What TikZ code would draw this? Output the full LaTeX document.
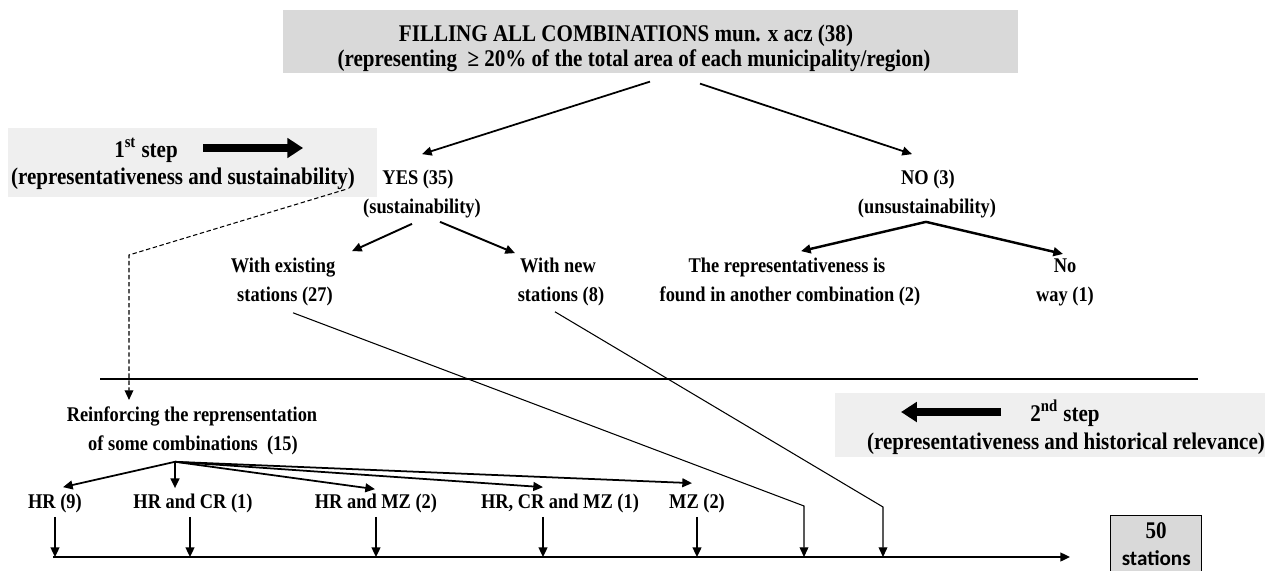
\documentclass[tikz,border=0pt]{standalone}
\usepackage{fontspec}
\setmainfont{Liberation Serif}[FakeStretch=0.88]
\newfontfamily\calibri{Carlito}
\usetikzlibrary{arrows.meta, calc}
\definecolor{boxgrey}{HTML}{D9D9D9}
\definecolor{stepgrey}{HTML}{EFEFEF}
\tikzset{
  lbl/.style={font=\fontsize{11.9}{13}\selectfont\bfseries, anchor=base, inner sep=0pt},
  big/.style={font=\fontsize{13.6}{15}\selectfont\bfseries, anchor=base, inner sep=0pt},
  arrow/.style={-{Triangle[length=5.5pt, width=5pt]}, line width=1pt},
  thin/.style={line width=0.6pt},
  blockarrow/.style={-{Triangle[length=9pt, width=11pt]}, line width=5pt},
}
\begin{document}
\begin{tikzpicture}[x=0.02cm, y=-0.02cm]
  \clip (0,0) rectangle (1265,571);
  % grey backgrounds
  \fill[boxgrey] (283,10) rectangle (1018,73);
  \fill[stepgrey] (8,128) rectangle (377,197);
  \fill[stepgrey] (835,393) rectangle (1265,457);

  % first step
  \node[big] (title1) at (626,42) {FILLING ALL COMBINATIONS mun. x acz (38)};
  \node[big] (title2) at (634,67) {(representing \ ≥ 20\% of the total area of each municipality/region)};
  \node[big] (step1a) at (146,157) {1\textsuperscript{st} step};
  \node[big] (step1b) at (183,185) {(representativeness and sustainability)};
  \draw[blockarrow] (step1a.base east) ++(25,-9) -- ++(100,0);

  \node[lbl] (yes) at (418,185) {YES (35)};
  \node[lbl] (sust) at (422,214) {(sustainability)};
  \node[lbl] (no) at (928,185) {NO (3)};
  \node[lbl] (unsust) at (927,214) {(unsustainability)};
  \draw[arrow] ($(title2.south)+(16,9)$) -- ($(yes.north)+(4,-16)$);
  \draw[arrow] ($(title2.south)+(66,11)$) -- ($(no.north)+(-16,-16)$);

  \node[lbl] (exist) at (283,272) {With existing};
  \node[lbl] (exist2) at (285,301) {stations (27)};
  \node[lbl] (new) at (558,272) {With new};
  \node[lbl] (new2) at (561,301) {stations (8)};
  \node[lbl] (found) at (787,272) {The representativeness is};
  \node[lbl] (found2) at (790,301) {found in another combination (2)};
  \node[lbl] (noway) at (1065,272) {No};
  \node[lbl] (noway2) at (1065,301) {way (1)};
  \draw[arrow, line width=1.1pt] ($(sust.south)+(-10,5)$) -- ($(exist.north)+(69,-6)$);
  \draw[arrow, line width=1.1pt] ($(sust.south)+(18,3)$) -- ($(new.north)+(-43,-4)$);
  \draw[arrow, line width=1.4pt] ($(unsust.south)+(-1,3)$) -- ($(found.north)+(14,-6)$);
  \draw[arrow, line width=1.4pt] ($(unsust.south)+(-1,3)$) -- ($(noway.north)+(-2,-4)$);

  % second step
  \coordinate (sepL) at (100,379);
  \coordinate (sepR) at (1198,379);
  \draw[line width=1.1pt] (sepL) -- (sepR);
  \node[big] (step2a) at (1065,421) {2\textsuperscript{nd} step};
  \node[big] (step2b) at (1066,449) {(representativeness and historical relevance)};
  \draw[blockarrow] (step2a.base west) ++(-29,-9) -- ++(-100,0);

  \node[lbl] (reinf) at (192,421) {Reinforcing the reprensentation};
  \node[lbl] (comb) at (193,450) {of some combinations \ (15)};
  \coordinate (dbend) at (129,255);
  \draw[arrow, thin, dash pattern=on 2.5pt off 1.5pt] ($(step1b.south east)+(-10,-1)$) -- (dbend) -- ($(dbend |- reinf.north)+(0,-6)$);

  \coordinate (hub) at ($(comb.south)+(-18,7)$);
  \coordinate (axisL) at (53,557);
  \foreach \n/\x/\t/\dx/\dy/\ax in {hr/55/HR (9)/8/-6/0, hrcr/193/HR and CR (1)/-18/-5/-3,
      hrmz/376/HR and MZ (2)/-1/-4/0, hrcrmz/560/{HR, CR and MZ (1)}/-17/-6/-17, mz/697/MZ (2)/-5/-10/0} {
    \node[lbl] (\n) at (\x,508) {\t};
    \draw[arrow] (hub) -- ($(\n.north)+(\dx,\dy)$);
    \draw[arrow, line width=1.1pt] ($(\n.south)+(\ax,4)$) -- ($(\n.south |- axisL)+(\ax,0)$);
  }

  \coordinate (k1) at (804,506);
  \coordinate (k2) at (883,507);
  \draw[arrow, thin] ($(exist2.south)+(8,7)$) -- (k1) -- (k1 |- axisL);
  \draw[arrow, thin] ($(new2.south)+(-6,6)$) -- (k2) -- (k2 |- axisL);

  \node[draw, fill=boxgrey, line width=0.6pt, minimum width=52pt, minimum height=36pt, anchor=north west] (total) at (1110,515) {};
  \node[big] (total1) at (total.center |- 0,538) {50};
  \node[big, font=\calibri\fontsize{12}{14}\selectfont\bfseries] (total2) at (total.center |- 0,565) {stations};
  \draw[arrow, line width=1.1pt] (axisL) -- ($(total.west |- axisL)+(-40,0)$);
\end{tikzpicture}
\end{document}
